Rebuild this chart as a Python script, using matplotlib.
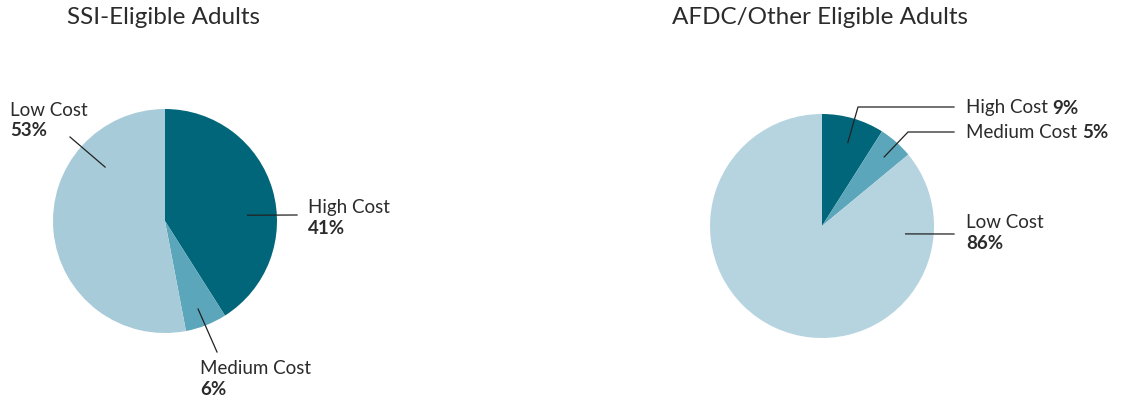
import numpy as np
import matplotlib
matplotlib.use("Agg")
import matplotlib.pyplot as plt
from matplotlib.lines import Line2D

W, H = 1122, 402
categories = ["High Cost", "Medium Cost", "Low Cost"]
ssi_values = [41, 6, 53]
afdc_values = [9, 5, 86]
titles = ["SSI-Eligible Adults", "AFDC/Other Eligible Adults"]

colors_left = ["#02667B", "#5BA6BA", "#A7CBD8"]
colors_right = ["#02667B", "#5BA6BA", "#B6D4DF"]
TXT = "#2b2b2b"
FONT = "Lato"
FS = 13.5

fig = plt.figure(figsize=(W / 100, H / 100), dpi=100)
fig.patch.set_facecolor("white")


def fx(x):
    return x / W


def fy(y):
    return 1 - y / H


def make_ax(cx, cy, r):
    return fig.add_axes([fx(cx - r), fy(cy + r), 2 * r / W, 2 * r / H])


def finish(ax):
    ax.set_xlim(-1, 1)
    ax.set_ylim(-1, 1)
    ax.set_aspect("equal")
    ax.axis("off")


axL = make_ax(165, 222, 112)
axR = make_ax(822, 227, 112)

axL.pie(ssi_values, colors=colors_left, startangle=90, counterclock=False,
        radius=1, center=(0, 0), wedgeprops=dict(linewidth=0))
axR.pie(afdc_values, colors=colors_right, startangle=90, counterclock=False,
        radius=1, center=(0, 0), wedgeprops=dict(linewidth=0))
finish(axL)
finish(axR)

fig.text(fx(67), fy(18), titles[0], fontsize=17.5, family=FONT, color=TXT, va="center", ha="left")
fig.text(fx(672), fy(18), titles[1], fontsize=17.5, family=FONT, color=TXT, va="center", ha="left")

fig.canvas.draw()


def anchor(ax, ang, r):
    a = np.deg2rad(ang)
    p = ax.transData.transform((r * np.cos(a), r * np.sin(a)))
    return fig.transFigure.inverted().transform(p)


def leader(ax, ang, r, pts):
    a = anchor(ax, ang, r)
    xs = [a[0]] + [fx(p[0]) for p in pts]
    ys = [a[1]] + [fy(p[1]) for p in pts]
    fig.add_artist(Line2D(xs, ys, transform=fig.transFigure, color="#222222", lw=0.9))


def two_line(x, y, name, val):
    fig.text(fx(x), fy(y), name, fontsize=FS, family=FONT, color=TXT, va="center", ha="left")
    fig.text(fx(x), fy(y + 21), f"{val}%", fontsize=FS, family=FONT, color=TXT,
             va="center", ha="left", fontweight="bold")


def one_line(x, y, name, val):
    t = fig.text(fx(x), fy(y), name + " ", fontsize=FS, family=FONT, color=TXT, va="center", ha="left")
    fig.canvas.draw()
    bb = t.get_window_extent()
    fig.text(bb.x1 / W, fy(y), f"{val}%", fontsize=FS, family=FONT, color=TXT,
             va="center", ha="left", fontweight="bold")


# Left pie labels
two_line(10, 110, categories[2], ssi_values[2])
leader(axL, 138, 0.72, [(70, 138)])
two_line(308, 208, categories[0], ssi_values[0])
leader(axL, 4, 0.74, [(297, 216)])
two_line(200, 369, categories[1], ssi_values[1])
leader(axL, -69.4, 0.84, [(217, 353)])

# Right pie labels
one_line(966, 108, categories[0], afdc_values[0])
leader(axR, 72.8, 0.78, [(858, 108), (954, 108)])
one_line(966, 133, categories[1], afdc_values[1])
leader(axR, 48, 0.83, [(908, 133), (954, 133)])
two_line(966, 223, categories[2], afdc_values[2])
leader(axR, -5.4, 0.75, [(954, 235)])

fig.savefig("out.png", dpi=100, facecolor="white")
